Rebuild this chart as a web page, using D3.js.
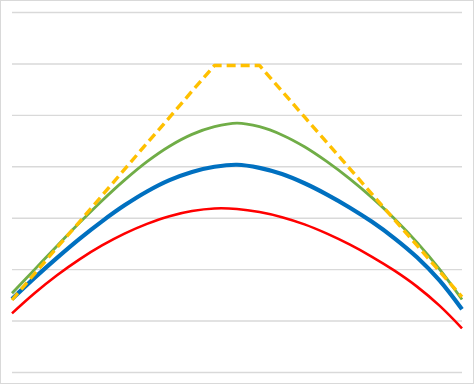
<!DOCTYPE html>
<html>
<head>
<meta charset="utf-8">
<script src="https://cdn.jsdelivr.net/npm/d3@7"></script>
<style>
  html, body { margin: 0; padding: 0; background: #fff; }
  svg { display: block; }
</style>
</head>
<body>
<div id="chart"></div>
<script>
// ---- data ----
const categories = [1, 2, 3, 4, 5, 6, 7, 8, 9, 10, 11, 12, 13, 14, 15, 16, 17, 18, 19, 20, 21];
const yTicks = [0, 10, 20, 30, 40, 50, 60, 70];

const redValues    = [11.4, 15.3, 18.8, 21.9, 24.6, 26.9, 28.8, 30.3, 31.3, 31.8, 31.7, 31.1, 30.1, 28.7, 26.9, 24.8, 22.4, 19.7, 16.6, 12.9, 8.5];
const blueValues   = [14.2, 18.3, 22.2, 25.9, 29.3, 32.4, 35.1, 37.3, 38.9, 39.9, 40.3, 39.7, 38.5, 36.7, 34.5, 32.0, 29.2, 26.0, 22.3, 17.8, 12.2];
const greenValues  = [15.3, 19.9, 24.5, 29.0, 33.3, 37.3, 40.9, 43.9, 46.2, 47.7, 48.4, 47.7, 46.1, 43.8, 40.9, 37.6, 33.9, 29.8, 25.2, 20.0, 14.1];
const yellowValues = [14.0, 19.1, 24.2, 29.2, 34.3, 39.4, 44.5, 49.5, 54.6, 59.6, 59.6, 59.6, 54.6, 49.6, 44.6, 39.6, 34.6, 29.6, 24.6, 19.6, 14.6];

// ---- layout ----
const W = 474, H = 384;
const plot = { left: 12, right: 462, top: 12, bottom: 372 };

const svg = d3.select("#chart").append("svg")
  .attr("width", W).attr("height", H);

// outer border
svg.append("rect")
  .attr("x", 0.5).attr("y", 0.5)
  .attr("width", W - 1).attr("height", H - 1)
  .attr("fill", "#fff").attr("stroke", "#d9d9d9").attr("stroke-width", 1);

const x = d3.scalePoint().domain(categories).range([plot.left, plot.right]);
const y = d3.scaleLinear().domain([0, 70]).range([plot.bottom, plot.top]);

// gridlines via axis
const grid = svg.append("g")
  .attr("transform", `translate(${plot.left},0)`)
  .call(d3.axisLeft(y).tickValues(yTicks).tickSize(-(plot.right - plot.left)).tickFormat(""));
grid.select(".domain").remove();
grid.selectAll(".tick line").attr("stroke", "#d9d9d9").attr("stroke-width", 1.4);

const series = [
  { values: redValues,    color: "#FF0000", width: 2.6, dash: null, curve: d3.curveCatmullRom.alpha(0.5) },
  { values: blueValues,   color: "#0070C0", width: 4.2, dash: null, curve: d3.curveCatmullRom.alpha(0.5) },
  { values: greenValues,  color: "#70AD47", width: 2.8, dash: null, curve: d3.curveCatmullRom.alpha(0.5) },
  { values: yellowValues, color: "#FFC000", width: 3.4, dash: "9,5", curve: d3.curveLinear }
];

series.forEach(s => {
  const line = d3.line()
    .x((d, i) => x(categories[i]))
    .y(d => y(d))
    .curve(s.curve);
  svg.append("path")
    .datum(s.values)
    .attr("d", line)
    .attr("fill", "none")
    .attr("stroke", s.color)
    .attr("stroke-width", s.width)
    .attr("stroke-linejoin", "round")
    .attr("stroke-dasharray", s.dash);
});
</script>
</body>
</html>
